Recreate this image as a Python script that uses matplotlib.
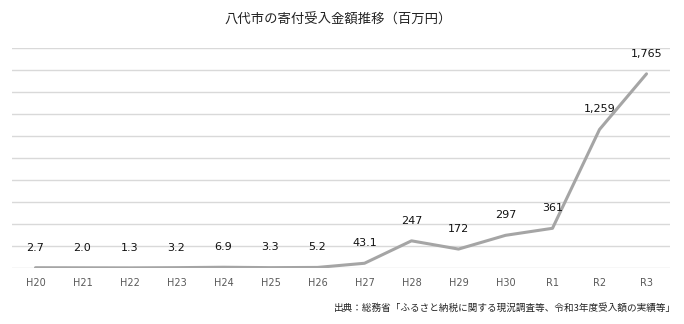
import matplotlib.pyplot as plt

plt.rcParams['font.family'] = ['DejaVu Sans', 'Noto Sans CJK JP']

years = ['H20', 'H21', 'H22', 'H23', 'H24', 'H25', 'H26', 'H27',
         'H28', 'H29', 'H30', 'R1', 'R2', 'R3']
amounts = [2.7, 2.0, 1.3, 3.2, 6.9, 3.3, 5.2, 43.1,
           247, 172, 297, 361, 1259, 1765]

fig = plt.figure(figsize=(6.84, 3.24), dpi=100)
ax = fig.add_axes([12 / 684, 1 - 268 / 324, 658 / 684, 220 / 324])

x = range(len(years))
ax.plot(x, amounts, color='#a5a5a5', linewidth=2.2, solid_capstyle='round', zorder=3)

for i, v in enumerate(amounts):
    if v < 100:
        txt = f'{v:.1f}'
    else:
        txt = f'{v:,.0f}'
    ax.annotate(txt, (i, v), xytext=(0, 14.5), textcoords='offset points',
                ha='center', va='center', fontsize=8, color='#111111')

ax.set_xlim(-0.5, len(years) - 0.5)
ax.set_ylim(0, 2000)
ax.set_yticks(range(0, 2001, 200))
ax.yaxis.grid(True, color='#d9d9d9', linewidth=1)
ax.set_axisbelow(True)
ax.tick_params(axis='y', left=False, labelleft=False)
ax.tick_params(axis='x', length=0, pad=7, labelsize=7, labelcolor='#595959')
ax.set_xticks(list(x))
ax.set_xticklabels(years)
for s in ax.spines.values():
    s.set_visible(False)

jp = ['Noto Sans CJK JP', 'DejaVu Sans']
fig.text(338 / 684, 1 - 20 / 324, '八代市の寄付受入金額推移（百万円）', ha='center', va='center',
         fontsize=9.6, color='#222222', family=jp)
fig.text(676 / 684, 1 - 308 / 324, '出典：総務省「ふるさと納税に関する現況調査等、令和3年度受入額の実績等」',
         ha='right', va='center', fontsize=6.9, color='#222222', family=jp)

fig.savefig('out.png', dpi=100, facecolor='white')
